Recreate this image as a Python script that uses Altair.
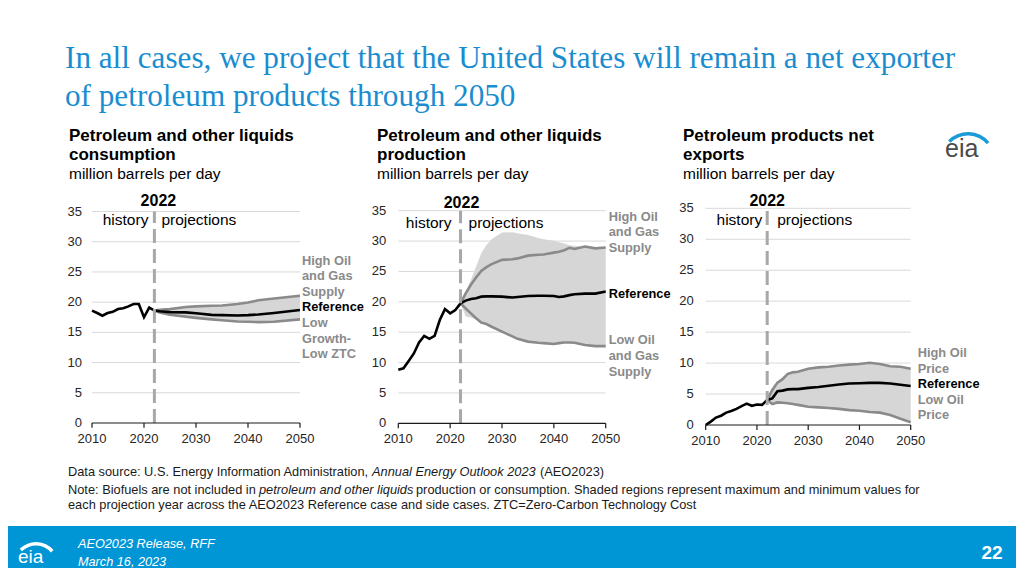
import altair as alt
import pandas as pd

# ---------------- data (million barrels per day) ----------------
HIST_YEARS = list(range(2010, 2023))

# Panel 1: Petroleum and other liquids consumption
cons_hist = [18.6, 18.2, 17.75, 18.2, 18.4, 18.85, 19.0, 19.3, 19.7, 19.7, 17.5, 19.1, 18.6]
cons_years = [2022, 2023, 2025, 2028, 2030, 2033, 2035, 2038, 2040, 2042, 2045, 2050]
cons_ref = [18.6, 18.5, 18.35, 18.3, 18.15, 17.9, 17.85, 17.8, 17.85, 17.95, 18.2, 18.7]
cons_high = [18.6, 18.75, 18.85, 19.2, 19.3, 19.4, 19.45, 19.7, 19.95, 20.3, 20.6, 21.05]
cons_low = [18.6, 18.3, 17.9, 17.6, 17.4, 17.15, 17.0, 16.8, 16.75, 16.7, 16.75, 17.15]

# Panel 2: Petroleum and other liquids production
prod_hist = [8.8, 9.05, 10.25, 11.5, 13.3, 14.4, 13.9, 14.4, 17.0, 18.8, 18.1, 18.65, 19.75]
prod_years = [2022, 2023, 2024, 2025, 2026, 2027, 2028, 2030, 2032, 2033, 2035, 2037,
              2038, 2040, 2041, 2042, 2043, 2044, 2046, 2048, 2050]
prod_ref = [19.75, 20.2, 20.45, 20.6, 20.85, 20.9, 20.9, 20.85, 20.7, 20.8, 20.95, 21.0,
            21.0, 20.95, 20.8, 20.9, 21.1, 21.25, 21.35, 21.35, 21.7]
prod_high = [19.75, 21.4, 22.8, 24.0, 25.1, 25.7, 26.2, 26.9, 27.0, 27.15, 27.6, 27.75,
             27.8, 28.1, 28.25, 28.5, 28.9, 28.7, 29.1, 28.8, 28.95]
prod_low = [19.75, 18.9, 18.1, 17.3, 16.6, 16.35, 15.9, 15.1, 14.3, 13.9, 13.45, 13.25,
            13.2, 13.05, 13.2, 13.3, 13.3, 13.25, 12.9, 12.7, 12.7]
prod_max = [19.75, 21.6, 23.6, 25.8, 28.0, 29.35, 30.3, 31.4, 31.45, 31.3, 31.0, 30.5,
            30.3, 30.05, 29.8, 29.6, 29.3, 29.2, 29.1, 28.9, 28.95]
prod_min = [19.75, 17.6, 17.4, 17.1, 16.6, 16.35, 15.9, 15.1, 14.3, 13.9, 13.45, 13.25,
            13.2, 13.05, 13.2, 13.3, 13.3, 13.25, 12.9, 12.7, 12.7]

# Panel 3: Petroleum products net exports
exp_hist = [0.0, 0.55, 1.2, 1.5, 2.0, 2.25, 2.6, 3.05, 3.45, 3.1, 3.3, 3.25, 4.05]
exp_years = [2022, 2023, 2024, 2025, 2026, 2027, 2028, 2030, 2032, 2034, 2036, 2038,
             2040, 2042, 2044, 2046, 2048, 2050]
exp_ref = [4.05, 4.3, 5.45, 5.55, 5.75, 5.8, 5.8, 6.0, 6.15, 6.35, 6.55, 6.7,
           6.75, 6.8, 6.8, 6.7, 6.5, 6.3]
exp_high = [4.05, 5.65, 6.85, 7.4, 8.25, 8.5, 8.6, 9.1, 9.3, 9.4, 9.6, 9.75,
            9.85, 10.05, 9.85, 9.5, 9.4, 9.1]
exp_low = [4.05, 3.4, 3.65, 3.6, 3.5, 3.4, 3.25, 2.95, 2.85, 2.75, 2.6, 2.4,
           2.3, 2.1, 2.0, 1.6, 1.0, 0.45]

Y_TICKS = [0, 5, 10, 15, 20, 25, 30, 35]
X_TICKS = [2010, 2020, 2030, 2040, 2050]

# case labels: (text, y position in data units, is reference)
cons_labels = [("High Oil", 26.8, False), ("and Gas", 24.3, False), ("Supply", 21.7, False),
               ("Reference", 19.2, True), ("Low", 16.5, False), ("Growth-", 13.9, False),
               ("Low ZTC", 11.4, False)]
prod_labels = [("High Oil", 34.0, False), ("and Gas", 31.5, False), ("Supply", 28.9, False),
               ("Reference", 21.3, True), ("Low Oil", 13.7, False), ("and Gas", 11.1, False),
               ("Supply", 8.5, False)]
exp_labels = [("High Oil", 11.6, False), ("Price", 9.05, False), ("Reference", 6.6, True),
              ("Low Oil", 4.0, False), ("Price", 1.6, False)]

# ---------------- styling ----------------
O = 8  # page margin
SANS = "Liberation Sans"
GRID = "#d9d9d9"
BAND = "#d6d6d6"
CASE = "#8a8a8a"
BLUE = "#0096d6"


def text_layer(t, x, y, **kw):
    base = dict(align="left", baseline="alphabetic", font=SANS)
    base.update(kw)
    return alt.Chart(pd.DataFrame({"t": [t]})).mark_text(**base).encode(
        x=alt.value(x - O), y=alt.value(y - O), text="t:N")


def panel(geom, hist, years, ref, high, low, bmax, bmin, labels, hdr):
    x0, x1, y0, y1 = [g - O for g in geom["box"]]
    xs = alt.Scale(domain=[2010, 2050], range=[x0, x1], nice=False, zero=False)
    ys = alt.Scale(domain=[0, 35], range=[y0, y1], nice=False, zero=False)

    def X(f):
        return alt.X(f, type="quantitative", scale=xs, axis=None)

    def Y(f):
        return alt.Y(f, type="quantitative", scale=ys, axis=None)

    layers = []
    grid = pd.DataFrame({"v": Y_TICKS[1:], "a": 2010, "b": 2050})
    layers.append(alt.Chart(grid).mark_rule(color=GRID, strokeWidth=1).encode(
        x=X("a"), x2="b", y=Y("v")))

    band = pd.DataFrame({"year": years, "hi": bmax, "lo": bmin})
    layers.append(alt.Chart(band).mark_area(color=BAND, opacity=1).encode(
        x=X("year"), y=Y("hi"), y2="lo"))

    cases = pd.concat([
        pd.DataFrame({"year": years, "v": high, "case": "high"}),
        pd.DataFrame({"year": years, "v": low, "case": "low"}),
    ])
    layers.append(alt.Chart(cases).mark_line(color=CASE, strokeWidth=2.6).encode(
        x=X("year"), y=Y("v"), detail="case:N", order="year:Q"))

    refdf = pd.DataFrame({"year": HIST_YEARS + years[1:], "v": hist + ref[1:]})
    layers.append(alt.Chart(refdf).mark_line(color="black", strokeWidth=2.6).encode(
        x=X("year"), y=Y("v"), order="year:Q"))

    dash = pd.DataFrame({"year": [2022], "a": [0], "b": [35]})
    layers.append(alt.Chart(dash).mark_rule(color="#a8a8a8", strokeWidth=3,
                                            strokeDash=[14, 6]).encode(
        x=X("year"), y=Y("a"), y2="b"))

    base = pd.DataFrame({"a": [2010], "b": [2050], "v": [0]})
    layers.append(alt.Chart(base).mark_rule(color="#1a1a1a", strokeWidth=1.2).encode(
        x=X("a"), x2="b", y=Y("v")))

    ticks = pd.DataFrame({"year": X_TICKS, "a": 0, "b": -0.8})
    layers.append(alt.Chart(ticks).mark_rule(color="#1a1a1a", strokeWidth=1.2).encode(
        x=X("year"), y=Y("a"), y2="b"))

    xl = pd.DataFrame({"year": X_TICKS, "v": 0, "t": [str(y) for y in X_TICKS]})
    layers.append(alt.Chart(xl).mark_text(font=SANS, fontSize=13, color="#262626",
                                          baseline="middle", dy=16).encode(
        x=X("year"), y=Y("v"), text="t:N"))

    yl = pd.DataFrame({"year": 2010, "v": Y_TICKS, "t": [str(v) for v in Y_TICKS]})
    layers.append(alt.Chart(yl).mark_text(font=SANS, fontSize=13, color="#262626",
                                          align="right", baseline="middle",
                                          dx=geom["ylab_dx"]).encode(
        x=X("year"), y=Y("v"), text="t:N"))

    # header: 2022 / history | projections
    h = pd.DataFrame({"year": [2022], "a": [hdr[0]], "b": [hdr[1]],
                      "y22": ["2022"], "hs": ["history"], "pr": ["projections"]})
    layers.append(alt.Chart(h).mark_text(font=SANS, fontSize=16, fontWeight="bold",
                                         color="black", baseline="middle",
                                         dx=hdr[2]).encode(
        x=X("year"), y=Y("a"), text="y22:N"))
    layers.append(alt.Chart(h).mark_text(font=SANS, fontSize=15.5, color="black",
                                         align="right", baseline="middle",
                                         dx=hdr[3]).encode(
        x=X("year"), y=Y("b"), text="hs:N"))
    layers.append(alt.Chart(h).mark_text(font=SANS, fontSize=15.5, color="black",
                                         align="left", baseline="middle",
                                         dx=hdr[4]).encode(
        x=X("year"), y=Y("b"), text="pr:N"))

    lab = pd.DataFrame({"year": 2050, "t": [l[0] for l in labels],
                        "v": [l[1] for l in labels],
                        "ref": [l[2] for l in labels]})
    layers.append(alt.Chart(lab).mark_text(font=SANS, fontSize=12.8, fontWeight="bold",
                                           align="left", baseline="middle",
                                           dx=geom["lab_dx"]).encode(
        x=X("year"), y=Y("v"), text="t:N",
        color=alt.Color("ref:N", scale=alt.Scale(domain=[False, True],
                                                 range=[CASE, "black"]),
                        legend=None)))
    return layers


p1 = panel({"box": [92, 300, 423, 211.5], "ylab_dx": -10, "lab_dx": 2},
           cons_hist, cons_years, cons_ref, cons_high, cons_low, cons_high, cons_low,
           cons_labels, (36.7, 33.6, 4, -6, 7))
p2 = panel({"box": [398.3, 605.7, 423.3, 210.7], "ylab_dx": -12, "lab_dx": 3},
           prod_hist, prod_years, prod_ref, prod_high, prod_low, prod_max, prod_min,
           prod_labels, (36.3, 33.0, 1, -9, 8))
p3 = panel({"box": [705.7, 910.7, 425, 208.3], "ylab_dx": -12, "lab_dx": 7},
           exp_hist, exp_years, exp_ref, exp_high, exp_low, exp_high, exp_low,
           exp_labels, (36.2, 33.1, 0, -5, 10))

TITLE = "#1a8dd0"
static = [
    text_layer("In all cases, we project that the United States will remain a net exporter",
               65, 68, font="Liberation Serif", fontSize=31.2, color=TITLE),
    text_layer("of petroleum products through 2050", 65, 106,
               font="Liberation Serif", fontSize=31.2, color=TITLE),
]
subs = [(69, "Petroleum and other liquids", "consumption"),
        (377, "Petroleum and other liquids", "production"),
        (683, "Petroleum products net", "exports")]
for x, a, b in subs:
    static.append(text_layer(a, x, 141, fontSize=17, fontWeight="bold", color="black"))
    static.append(text_layer(b, x, 160, fontSize=17, fontWeight="bold", color="black"))
    static.append(text_layer("million barrels per day", x, 179, fontSize=15.5, color="black"))

NOTE = dict(fontSize=12.8, color="#1a1a1a")
static += [
    text_layer("Data source: U.S. Energy Information Administration,", 68, 476, **NOTE),
    text_layer("Annual Energy Outlook 2023", 372, 476, fontStyle="italic", **NOTE),
    text_layer("(AEO2023)", 540, 476, **NOTE),
    text_layer("Note: Biofuels are not included in", 68, 494, **NOTE),
    text_layer("petroleum and other liquids", 259, 494, fontStyle="italic", **NOTE),
    text_layer("production or consumption. Shaded regions represent maximum and minimum values for",
               416, 494, **NOTE),
    text_layer("each projection year across the AEO2023 Reference case and side cases. "
               "ZTC=Zero-Carbon Technology Cost", 68, 509, **NOTE),
]

# footer band
static.append(alt.Chart(pd.DataFrame({"a": [0]})).mark_rect(color=BLUE).encode(
    x=alt.value(0), x2=alt.value(1008), y=alt.value(526 - O), y2=alt.value(560)))
static += [
    text_layer("AEO2023 Release, RFF", 78, 548, fontSize=12.7, fontStyle="italic", color="white"),
    text_layer("March 16, 2023", 78, 566, fontSize=12.7, fontStyle="italic", color="white"),
    text_layer("22", 992, 553, align="center", baseline="middle", fontSize=19,
               fontWeight="bold", color="white"),
    # logos
    text_layer("eia", 18, 563, fontSize=19, color="white"),
    text_layer("eia", 945, 157, fontSize=25, color="#4a4a4a"),
]
for cx, cy, r, col in [(36, 565, 23, "white"), (968, 160, 28, "#1a9bd7")]:
    static.append(alt.Chart(pd.DataFrame({"a": [0]})).mark_arc(
        radius=r, radius2=r - 3.5, theta=5.49, theta2=7.15, color=col).encode(
        x=alt.value(cx - O), y=alt.value(cy - O)))

chart = alt.layer(*(p1 + p2 + p3 + static)).resolve_scale(
    x="independent", y="independent", color="independent"
).properties(
    width=1008, height=560, autosize=alt.AutoSizeParams(type="none"), padding=0,
    background="white"
).configure_view(stroke=None)

chart.save("out.html", embed_options={"renderer": "svg", "actions": False})
